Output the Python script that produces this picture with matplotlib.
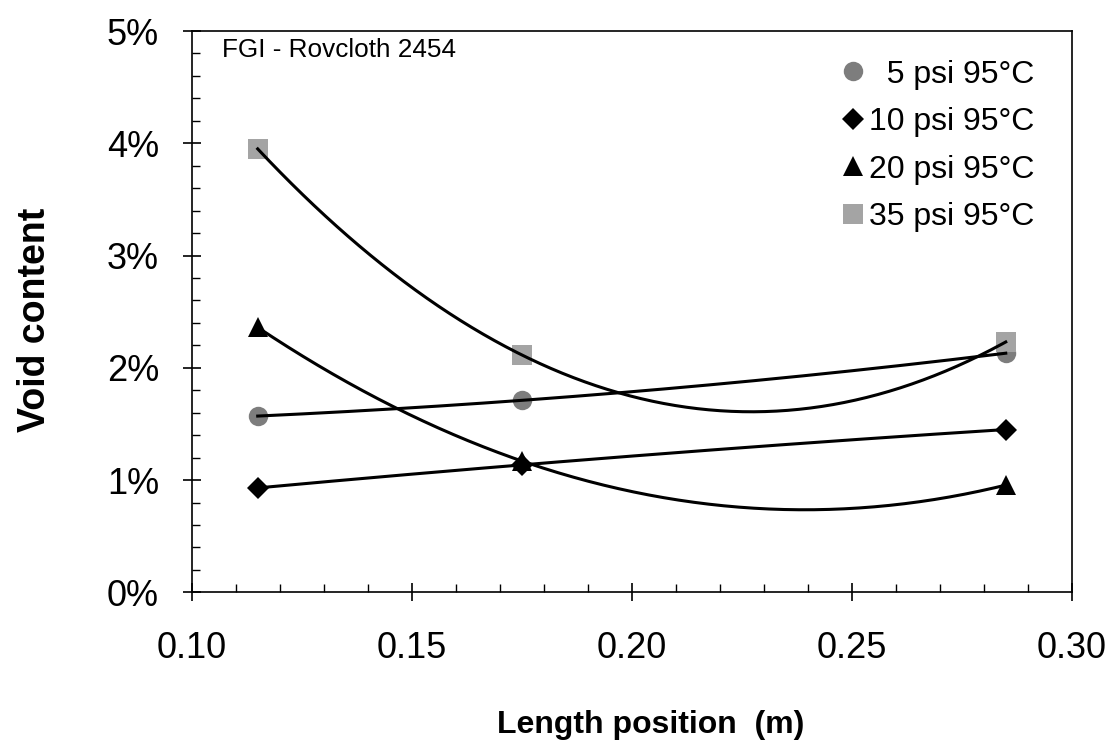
import numpy as np
import matplotlib.pyplot as plt
from matplotlib.ticker import MultipleLocator, FuncFormatter

plt.rcParams['font.family'] = ['Liberation Sans', 'DejaVu Sans']

# positions along the length (m)
positions = [0.115, 0.175, 0.285]

# void content (%) per pressure
void_5psi = [1.57, 1.71, 2.13]
void_10psi = [0.93, 1.135, 1.45]
void_20psi = [2.36, 1.17, 0.955]
void_35psi = [3.95, 2.115, 2.23]

labels = ["  5 psi 95°C", "10 psi 95°C", "20 psi 95°C", "35 psi 95°C"]
series = [void_5psi, void_10psi, void_20psi, void_35psi]
markers = ["o", "D", "^", "s"]
mcolors = ["#7d7d7d", "black", "black", "#a4a4a4"]
msizes = [14, 11, 15, 14]

fig = plt.figure(figsize=(11.12, 7.51), dpi=100)
ax = fig.add_axes([0.1724, 0.2113, 0.7914, 0.7474])

xs = np.linspace(positions[0], positions[-1], 200)
for vals, m, c, ms, lab in zip(series, markers, mcolors, msizes, labels):
    ax.plot(positions, vals, linestyle="none", marker=m, color=c,
            markersize=ms, markeredgewidth=0, label=lab, zorder=3)
    # Excel-style 2nd order polynomial trendline
    coef = np.polyfit(positions, vals, 2)
    ax.plot(xs, np.polyval(coef, xs), color="black", lw=2.2, zorder=4)

ax.set_xlim(0.10, 0.30)
ax.set_ylim(0, 5)
ax.xaxis.set_major_locator(MultipleLocator(0.05))
ax.xaxis.set_minor_locator(MultipleLocator(0.01))
ax.yaxis.set_major_locator(MultipleLocator(1))
ax.yaxis.set_minor_locator(MultipleLocator(0.2))
ax.xaxis.set_major_formatter(FuncFormatter(lambda v, p: f"{v:.2f}"))
ax.yaxis.set_major_formatter(FuncFormatter(lambda v, p: f"{v:.0f}%"))

ax.tick_params(which="major", direction="inout", length=13, width=1.2,
               labelsize=26)
ax.tick_params(axis="x", which="major", pad=21)
ax.tick_params(axis="y", which="major", pad=17)
ax.tick_params(which="minor", direction="in", length=6, width=1)
for s in ax.spines.values():
    s.set_linewidth(1.2)

ax.set_xlabel("Length position  (m)", fontsize=23, fontweight="bold",
              labelpad=32, x=0.5216)
ax.set_ylabel("Void content", fontsize=27, fontweight="bold", labelpad=39,
              y=0.486)

ax.text(0.034, 0.966, "FGI - Rovcloth 2454", transform=ax.transAxes,
        fontsize=18.8, va="center", ha="left")

leg = ax.legend(loc="upper right", frameon=False, fontsize=23,
                handletextpad=0.1, handlelength=0.8, labelspacing=0.55,
                borderaxespad=0, bbox_to_anchor=(0.972, 0.972))

fig.savefig("out.png", dpi=100)
